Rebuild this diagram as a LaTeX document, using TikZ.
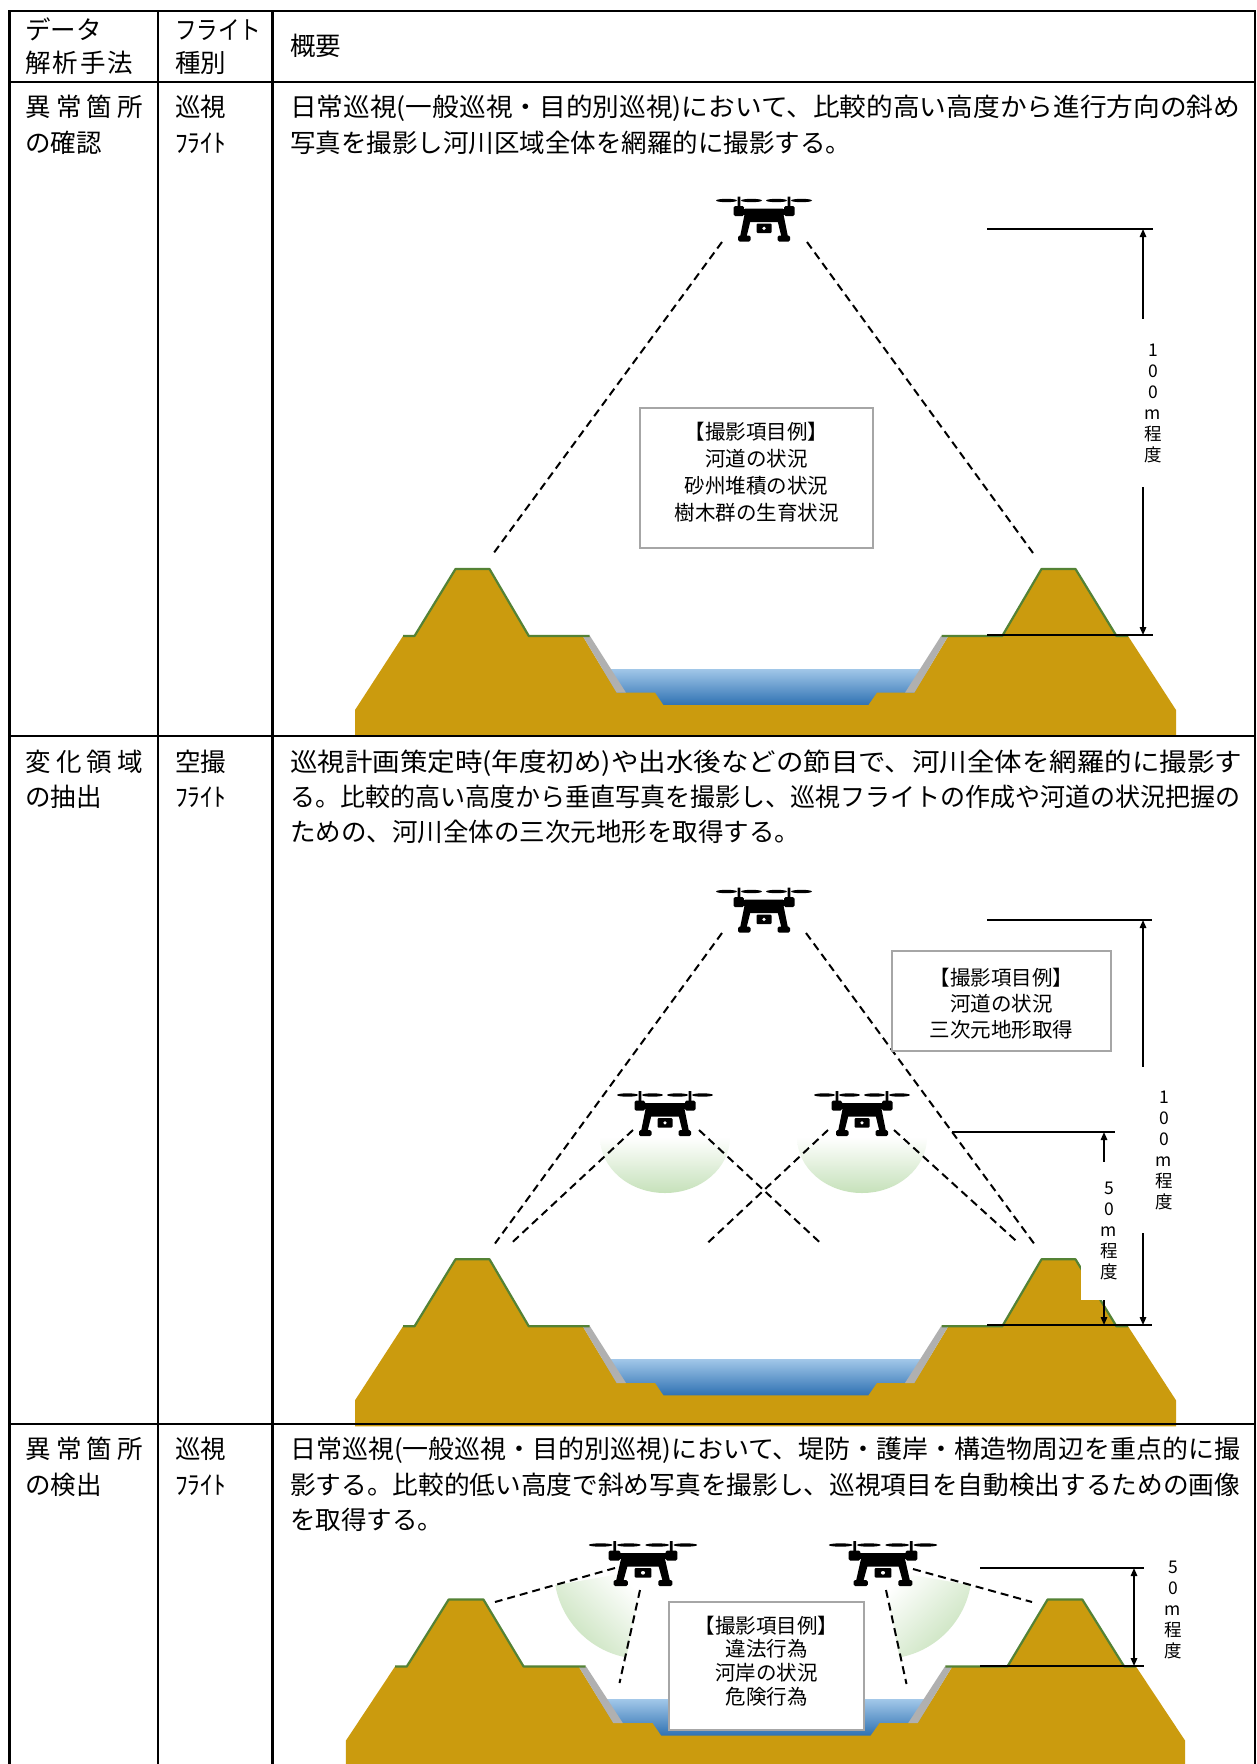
\documentclass[tikz,border=0pt]{standalone}
\usepackage{fontspec}
\usepackage{graphicx}
\setmainfont{Noto Sans CJK JP}
\usetikzlibrary{arrows.meta}

\definecolor{soil}{RGB}{203,155,14}
\definecolor{turf}{RGB}{84,130,53}
\definecolor{revetment}{RGB}{176,176,176}
\definecolor{watertop}{RGB}{160,198,232}
\definecolor{waterbed}{RGB}{46,113,178}
\definecolor{beam}{RGB}{198,225,186}
\definecolor{framegray}{RGB}{166,166,166}

\newcommand\txtbody{\fontsize{25.5}{30}\selectfont}
\newcommand\txtbox{\fontsize{20.5}{27}\selectfont}
\newcommand\txtdim{\fontsize{17.5}{21}\selectfont}
\newcommand\fitto[2]{\resizebox{#1}{\height}{#2}}

\tikzset{
  cell/.style={anchor=west, inner sep=0pt, text height=22pt, text depth=2.6pt, font=\txtbody},
  tablerule/.style={line width=2.5pt, line cap=rect},
  sight/.style={line width=2pt, dash pattern=on 8pt off 5pt},
  infobox/.style={draw=framegray, line width=1.2pt, fill=white, inner sep=0pt},
  boxtext/.style={align=center, inner sep=0pt, font=\txtbox},
  extline/.style={line width=1.5pt},
  dimline/.style={line width=1.5pt, {Triangle[length=8pt,width=6.5pt]}-{Triangle[length=8pt,width=6.5pt]}},
  dimlabel/.style={align=center, inner sep=0pt, fill=white, font=\txtdim},
  % quadcopter icon, origin at the centre of the rotor line
  drone/.pic={
    \fill[black]
      (-37.5,0) ellipse [x radius=10.5, y radius=1.7]
      (-12.5,0) ellipse [x radius=10.5, y radius=1.7]
      (12.5,0) ellipse [x radius=10.5, y radius=1.7]
      (37.5,0) ellipse [x radius=10.5, y radius=1.7];
    \fill[black] (-26.3,-4) rectangle (-23.7,7) (23.7,-4) rectangle (26.3,7);
    \fill[black, rounded corners=1.5pt] (-30.5,5.5) rectangle (-20,15.5);
    \fill[black, rounded corners=1.5pt] (20,5.5) rectangle (30.5,15.5);
    \fill[black] (-21,8) rectangle (21,14);
    \fill[black] (-19,8) -- (19,8) -- (17,21.5) -- (-17,21.5) -- cycle;
    \fill[black] (-19.5,14) -- (-12,14) -- (-17.5,36.5) -- (-24,36.5) -- cycle;
    \fill[black] (19.5,14) -- (12,14) -- (17.5,36.5) -- (24,36.5) -- cycle;
    \fill[black, rounded corners=1.5pt] (-26,35) rectangle (-13.5,41);
    \fill[black, rounded corners=1.5pt] (13.5,35) rectangle (26,41);
    \fill[black, rounded corners=1pt] (-7.5,23) rectangle (7.5,32.5);
    \fill[white] (0,27.8) circle [radius=1.8];
  },
  % river cross-section, origin at the centre of the berm level
  bank/.pic={
    \shade[top color=watertop, bottom color=waterbed] (-170,33.3) rectangle (170,69.5);
    \fill[soil] (-410.5,100) -- (-410.5,74) -- (-362.5,0) -- (-351,0) -- (-310,-67)
      -- (-276,-67) -- (-236.7,0) -- (-182.8,0) -- (-148.8,56.7) -- (-110.5,56.7)
      -- (-102.2,69) -- (103,69) -- (111.5,56.7) -- (148.8,56.7) -- (182.8,0)
      -- (236.7,0) -- (276,-67) -- (310,-67) -- (351,0) -- (362.5,0)
      -- (410.5,74) -- (410.5,100) -- cycle;
    \fill[revetment] (-182.8,0) -- (-175.5,0) -- (-139.5,56.7) -- (-148.8,56.7) -- cycle;
    \fill[revetment] (182.8,0) -- (175.5,0) -- (139.5,56.7) -- (148.8,56.7) -- cycle;
    \draw[turf, line width=2.2pt, line join=round]
      (-362.5,0) -- (-351,0) -- (-310,-67) -- (-276,-67) -- (-236.7,0) -- (-176,0);
    \draw[turf, line width=2.2pt, line join=round]
      (176,0) -- (236.7,0) -- (276,-67) -- (310,-67) -- (351,0) -- (362.5,0);
  }
}

\begin{document}
\begin{tikzpicture}[x=1pt, y=-1pt]
\path[use as bounding box] (0,0) rectangle (1257,1764);
\fill[white] (0,0) rectangle (1257,1764);

% ---------- terrain of the three sections ----------
\pic at (765.5,636) {bank};
\pic at (765.5,1326.3) {bank};
\pic[xscale=1.022] at (765.5,1666.5) {bank};

% ---------- camera footprints ----------
\shade[top color=white, bottom color=beam] (600,1137) arc[start angle=180, end angle=0, x radius=65, y radius=56] -- cycle;
\shade[top color=white, bottom color=beam] (797,1137) arc[start angle=180, end angle=0, x radius=65, y radius=56] -- cycle;
\shade[top color=white, bottom color=beam, shading angle=-45]
  (643,1570) -- ++(170.2:89) arc[start angle=170.2, end angle=100.7, radius=89] -- cycle;
\shade[top color=white, bottom color=beam, shading angle=45]
  (883,1570) -- ++(9.8:89) arc[start angle=9.8, end angle=79.3, radius=89] -- cycle;

% ---------- sight lines ----------
\draw[sight] (722,242) -- (493,554);
\draw[sight] (807,242) -- (1033,553);

\draw[sight] (722,933) -- (495,1243.5);
\draw[sight] (806,933) -- (1034,1243.5);
\draw[sight] (633,1130) -- (511,1243.5);
\draw[sight] (699,1130) -- (821,1243.5);
\draw[sight] (828,1130) -- (707,1243.5);
\draw[sight] (894,1130) -- (1019,1243.5);

\draw[sight] (615,1568) -- (495,1602);
\draw[sight] (640,1590) -- (619.5,1683);
\draw[sight] (913,1569) -- (1032,1602);
\draw[sight] (886,1590) -- (906.5,1684);

% ---------- drones ----------
\pic at (764,200.5) {drone};
\pic at (764,891.5) {drone};
\pic at (665,1095) {drone};
\pic at (862,1095) {drone};
\pic[xscale=1.13] at (643,1545) {drone};
\pic[xscale=1.13] at (883,1545) {drone};

% ---------- item boxes ----------
\node[infobox, minimum width=233pt, minimum height=140pt] (box1) at (756.5,478) {};
\node[boxtext] (box1t) at (756.5,472.5) {【撮影項目例】\\河道の状況\\砂州堆積の状況\\樹木群の生育状況};

\node[infobox, minimum width=219pt, minimum height=100pt] (box2) at (1001.5,1001) {};
\node[boxtext, font=\fontsize{20.5}{26}\selectfont] (box2t) at (1001.5,1004) {【撮影項目例】\\河道の状況\\三次元地形取得};

\node[infobox, minimum width=195pt, minimum height=128pt] (box3) at (766.5,1666) {};
\node[boxtext, font=\fontsize{20.5}{23.7}\selectfont] (box3t) at (766.5,1661) {【撮影項目例】\\違法行為\\河岸の状況\\危険行為};

% ---------- altitude dimensions ----------
\draw[extline] (987,229) -- (1153,229);
\draw[extline] (987,635) -- (1153,635);
\draw[dimline] (1143,229) -- (1143,635);
\node[dimlabel, minimum width=34pt, minimum height=168pt] (alt1) at (1153,403) {1\\0\\0\\m\\程\\度};

\draw[extline] (987,920) -- (1152,920);
\draw[extline] (952,1132) -- (1115,1132);
\draw[extline] (987,1325) -- (1152,1325);
\draw[dimline] (1143,920) -- (1143,1325);
\draw[dimline] (1104,1132) -- (1104,1325);
\node[dimlabel, minimum width=50pt, minimum height=166pt] (alt2) at (1164,1150) {1\\0\\0\\m\\程\\度};
\node[dimlabel, minimum width=56pt, minimum height=138pt] (alt3) at (1109,1231) {5\\0\\m\\程\\度};

\draw[extline] (980,1568) -- (1144,1568);
\draw[extline] (980,1666) -- (1144,1666);
\draw[dimline] (1134,1568) -- (1134,1666);
\node[dimlabel] (alt4) at (1173,1610) {5\\0\\m\\程\\度};

% ---------- table ----------
\draw[tablerule] (9.5,11) -- (1255,11);
\draw[tablerule] (9.5,82) -- (1255,82);
\draw[tablerule] (9.5,736) -- (1255,736);
\draw[tablerule] (9.5,1424) -- (1255,1424);
\draw[tablerule] (9.5,11) -- (9.5,1770);
\draw[tablerule] (158,11) -- (158,1770);
\draw[tablerule] (272.5,11) -- (272.5,1770);
\draw[tablerule] (1255,11) -- (1255,1770);

% header
\node[cell] (hd1a) at (25,30) {データ};
\node[cell] (hd1b) at (25,63) {\makebox[108pt][s]{解\hfill 析\hfill 手\hfill 法}};
\node[cell] (hd2a) at (175,30) {\fitto{86pt}{フライト}};
\node[cell] (hd2b) at (175,63) {種別};
\node[cell] (hd3) at (290,46) {概要};

% row 1
\node[cell] (ra1) at (25,107) {\makebox[118pt][s]{異\hfill 常\hfill 箇\hfill 所}};
\node[cell] (ra2) at (25,143) {の確認};
\node[cell] (ra3) at (175,107) {巡視};
\node[cell] (ra4) at (175,143) {ﾌﾗｲﾄ};
\node[cell] (ra5) at (290,107) {\fitto{950pt}{日常巡視(一般巡視・目的別巡視)において、比較的高い高度から進行方向の斜め}};
\node[cell] (ra6) at (290,143) {写真を撮影し河川区域全体を網羅的に撮影する。};

% row 2
\node[cell] (rb1) at (25,762) {\makebox[118pt][s]{変\hfill 化\hfill 領\hfill 域}};
\node[cell] (rb2) at (25,797) {の抽出};
\node[cell] (rb3) at (175,762) {空撮};
\node[cell] (rb4) at (175,797) {ﾌﾗｲﾄ};
\node[cell] (rb5) at (290,762) {\fitto{952pt}{巡視計画策定時(年度初め)や出水後などの節目で、河川全体を網羅的に撮影す}};
\node[cell] (rb6) at (290,797) {\fitto{950pt}{る。比較的高い高度から垂直写真を撮影し、巡視フライトの作成や河道の状況把握の}};
\node[cell] (rb7) at (290,832) {ための、河川全体の三次元地形を取得する。};

% row 3
\node[cell] (rc1) at (25,1449) {\makebox[118pt][s]{異\hfill 常\hfill 箇\hfill 所}};
\node[cell] (rc2) at (25,1485) {の検出};
\node[cell] (rc3) at (175,1449) {巡視};
\node[cell] (rc4) at (175,1485) {ﾌﾗｲﾄ};
\node[cell] (rc5) at (290,1449) {\fitto{950pt}{日常巡視(一般巡視・目的別巡視)において、堤防・護岸・構造物周辺を重点的に撮}};
\node[cell] (rc6) at (290,1485) {\fitto{950pt}{影する。比較的低い高度で斜め写真を撮影し、巡視項目を自動検出するための画像}};
\node[cell] (rc7) at (290,1520) {を取得する。};
\end{tikzpicture}
\end{document}
